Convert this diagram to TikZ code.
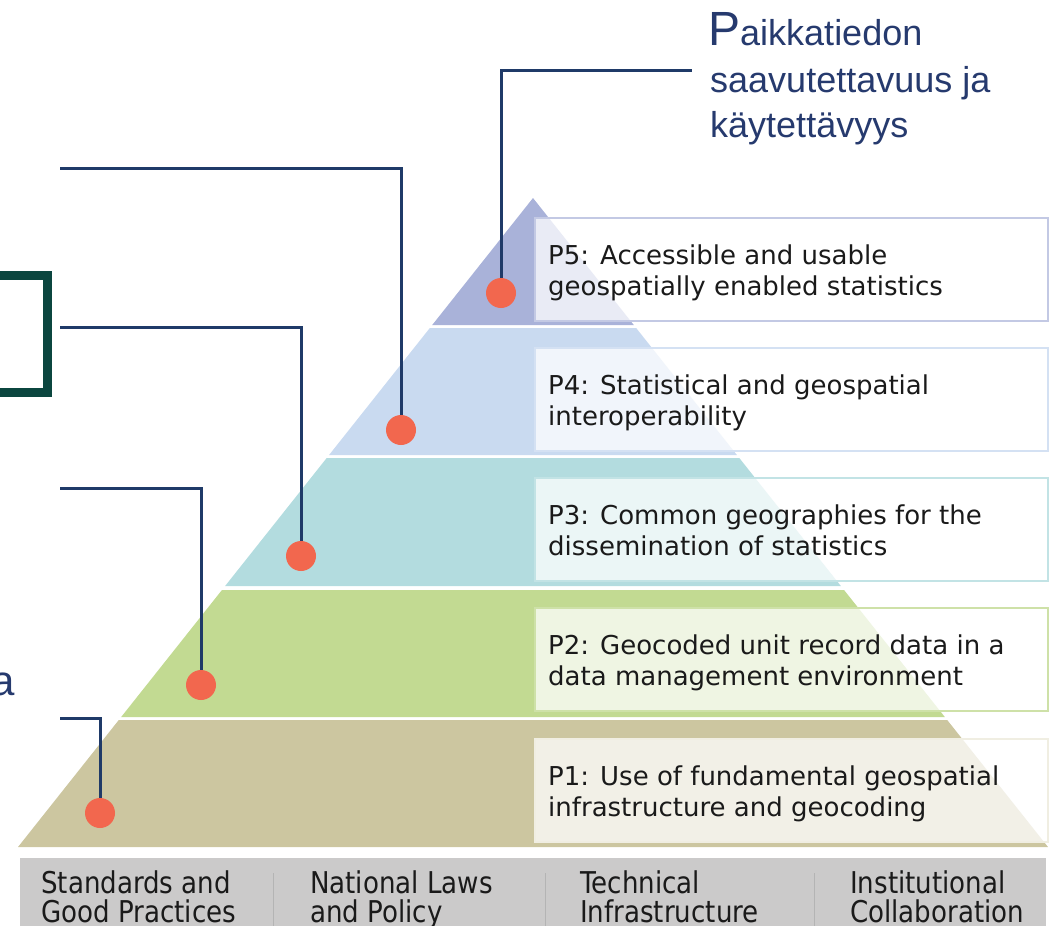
\documentclass[tikz,border=0pt]{standalone}
\usepackage{fontspec}
\setmainfont{DejaVu Sans}
\newfontfamily\titlefont{Liberation Sans}
\newfontfamily\barfont[FakeStretch=0.87]{DejaVu Sans}
\definecolor{cfive}{HTML}{A9B2D9}
\definecolor{cfour}{HTML}{C9DAF0}
\definecolor{cthree}{HTML}{B3DCDF}
\definecolor{ctwo}{HTML}{C2DA92}
\definecolor{cone}{HTML}{CCC6A0}
\definecolor{dotc}{HTML}{F2674E}
\definecolor{navy}{HTML}{1F3A68}
\definecolor{titlec}{HTML}{263A6E}
\definecolor{bracketc}{HTML}{0B463F}
\definecolor{barc}{HTML}{CBCACA}
\definecolor{sepc}{HTML}{B4B4B4}
\definecolor{txtc}{HTML}{1A1A1A}
\newcommand\pyrL[1]{533-0.7935*(#1-198)}
\newcommand\pyrR[1]{533+0.7935*(#1-198)}
\begin{document}
\begin{tikzpicture}[x=1pt,y=-1pt,
  pbox/.style={anchor=north west, minimum width=513pt, minimum height=103pt, inner sep=0pt,
    fill=white, fill opacity=0.75, text opacity=1, line width=1.5pt},
  ptext/.style={anchor=base west, inner sep=0pt, text=txtc, font=\fontsize{26}{31}\selectfont},
  bartext/.style={anchor=base west, inner sep=0pt, text=txtc, font=\barfont\fontsize{30}{30}\selectfont},
  dot/.style={circle, fill=dotc, minimum size=30pt, inner sep=0pt},
  conn/.style={draw=navy, line width=3pt},
  ttext/.style={anchor=base west, inner sep=0pt, text=titlec, font=\titlefont\fontsize{36}{36}\selectfont}]
\useasboundingbox (0,0) rectangle (1055,926);
\clip (0,0) rectangle (1055,926);
% pyramid layers
\fill[cfive] (533,198) -- ({\pyrR{325}},325) -- ({\pyrL{325}},325) -- cycle;
\foreach \t/\b/\c in {328/455/cfour, 458/586/cthree, 590/717/ctwo, 720/847/cone}{
  \fill[\c] ({\pyrL{\t}},\t) -- ({\pyrR{\t}},\t) -- ({\pyrR{\b}},\b) -- ({\pyrL{\b}},\b) -- cycle;
}
% text boxes
\node[pbox, draw=cfive!70!white] (b5) at (534,217) {};
\node[pbox, draw=cfour!80!white] (b4) at (534,347) {};
\node[pbox, draw=cthree!80!white] (b3) at (534,477) {};
\node[pbox, draw=ctwo!80!white] (b2) at (534,607) {};
\node[pbox, draw=cone!30!white] (b1) at (534,738) {};
\node[ptext] (t5a) at (548,264) {P5: Accessible and usable};
\node[ptext] (t5b) at (548,295) {geospatially enabled statistics};
\node[ptext] (t4a) at (548,394) {P4: Statistical and geospatial};
\node[ptext] (t4b) at (548,425) {interoperability};
\node[ptext] (t3a) at (548,524) {P3: Common geographies for the};
\node[ptext] (t3b) at (548,555) {dissemination of statistics};
\node[ptext] (t2a) at (548,654) {P2: Geocoded unit record data in a};
\node[ptext] (t2b) at (548,685) {data management environment};
\node[ptext] (t1a) at (548,785) {P1: Use of fundamental geospatial};
\node[ptext] (t1b) at (548,816) {infrastructure and geocoding};
% dots
\node[dot] (d5) at (501,293) {};
\node[dot] (d4) at (401,430) {};
\node[dot] (d3) at (301,556) {};
\node[dot] (d2) at (201,685) {};
\node[dot] (d1) at (100,813) {};
% connector ends
\coordinate (e5) at (692,70);
\coordinate (e4) at (60,168);
\coordinate (e3) at (60,327.5);
\coordinate (e2) at (60,488.5);
\coordinate (e1) at (60,718);
\draw[conn] (d5.north) |- (e5);
\draw[conn] (d4.north) |- (e4);
\draw[conn] (d3.north) |- (e3);
\draw[conn] (d2.north) |- (e2);
\draw[conn] (d1.north) |- (e1);
% bracket
\draw[draw=bracketc, line width=8.4pt] (-40,275.5) rectangle (47.5,392.5);
% partial label
\node[anchor=base east, inner sep=0pt, text=titlec, font=\titlefont\fontsize{42}{42}\selectfont] (pa) at (15,695) {a};
% title
\node[ttext] (ti1) at (708,45) {\fontsize{48}{48}\selectfont P\fontsize{36}{36}\selectfont aikkatiedon};
\node[ttext] (ti2) at (710,92) {saavutettavuus ja};
\node[ttext] (ti3) at (710,137) {käytettävyys};
% bottom bar
\fill[barc] (20,858) rectangle (1046,940);
\foreach \x in {273,545,814}{\draw[sepc, line width=1pt] (\x,873) -- (\x,930);}
\node[bartext] (s1a) at (41,893) {Standards and};
\node[bartext] (s1b) at (41,922) {Good Practices};
\node[bartext] (s2a) at (310,893) {National Laws};
\node[bartext] (s2b) at (310,922) {and Policy};
\node[bartext] (s3a) at (580,893) {Technical};
\node[bartext] (s3b) at (580,922) {Infrastructure};
\node[bartext] (s4a) at (850,893) {Institutional};
\node[bartext] (s4b) at (850,922) {Collaboration};
\end{tikzpicture}
\end{document}
